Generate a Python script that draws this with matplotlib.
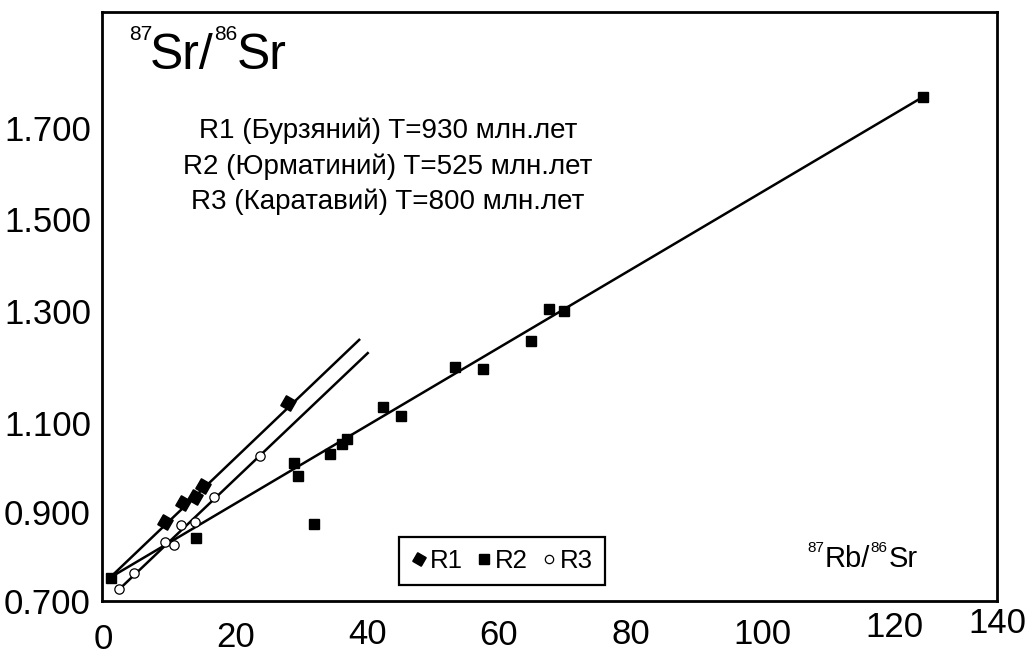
import matplotlib.pyplot as plt
from matplotlib.lines import Line2D

plt.rcParams['font.family'] = ['Liberation Sans', 'DejaVu Sans']

# R1 (Бурзяний) - 87Rb/86Sr and 87Sr/86Sr
r1_rb = [9.3, 12.1, 13.9, 15.1, 28.0]
r1_sr = [0.867, 0.907, 0.920, 0.943, 1.119]

# R2 (Юрматиний)
r2_rb = [1.1, 14.0, 28.9, 29.5, 31.9, 34.4, 36.2, 36.9, 42.4, 45.1,
         53.3, 57.6, 64.9, 67.6, 69.9, 124.3]
r2_sr = [0.749, 0.833, 0.992, 0.964, 0.863, 1.011, 1.032, 1.042, 1.110, 1.091,
         1.195, 1.190, 1.250, 1.317, 1.313, 1.765]

# R3 (Каратавий)
r3_rb = [2.4, 4.7, 9.3, 10.7, 11.7, 13.9, 16.8, 23.8]
r3_sr = [0.725, 0.759, 0.824, 0.818, 0.861, 0.868, 0.919, 1.007]

# isochrons, start and end
r1_line_rb = [1.1, 38.8]
r1_line_sr = [0.751, 1.252]
r2_line_rb = [0.7, 124.3]
r2_line_sr = [0.747, 1.765]
r3_line_rb = [2.4, 40.1]
r3_line_sr = [0.725, 1.224]

age_lines = ['R1 (Бурзяний) T=930 млн.лет',
             'R2 (Юрматиний) T=525 млн.лет',
             'R3 (Каратавий) T=800 млн.лет']

x_ticks = [0, 20, 40, 60, 80, 100, 120, 135.6]
x_labels = ['0', '20', '40', '60', '80', '100', '120', '140']
y_ticks = [0.700, 0.888, 1.076, 1.313, 1.508, 1.700]
y_labels = ['0.700', '0.900', '1.100', '1.300', '1.500', '1.700']

W, H = 1028, 655


def fxy(x, y):
    # pixel position (from top left) -> figure fraction
    return x / W, 1 - y / H


fig = plt.figure(figsize=(W / 100, H / 100), dpi=100)
ax = fig.add_axes([102 / W, 1 - 601 / H, (997 - 102) / W, (601 - 12) / H])

ax.plot(r1_line_rb, r1_line_sr, color='black', lw=1.8)
ax.plot(r2_line_rb, r2_line_sr, color='black', lw=1.8)
ax.plot(r3_line_rb, r3_line_sr, color='black', lw=1.8)

r1_marker = (4, 0, 15)
ax.plot(r2_rb, r2_sr, ls='none', marker='s', ms=7.5, color='black', zorder=3)
ax.plot(r1_rb, r1_sr, ls='none', marker=r1_marker, ms=11.5, color='black', zorder=3)
ax.plot(r3_rb, r3_sr, ls='none', marker='o', ms=6.7, mfc='white', mec='black',
        mew=0.9, zorder=3)

ax.set_xlim(-0.23, 135.6)
ax.set_ylim(0.7, 1.945)

for s in ax.spines.values():
    s.set_linewidth(2)

ax.set_xticks(x_ticks)
ax.set_xticklabels(x_labels)
ax.set_yticks(y_ticks)
ax.set_yticklabels(y_labels)
ax.tick_params(length=0, labelsize=25)
ax.tick_params(axis='y', pad=8)

# x labels in the scan sit on a slightly slanted line
x_pads = [16.0, 14.2, 12.0, 12.7, 12.0, 12.0, 6.9, 4.0]
for t, p in zip(ax.xaxis.get_major_ticks(), x_pads):
    t.set_pad(p)

# axis titles
fig.text(*fxy(129, 40), '87', fontsize=15, va='baseline')
fig.text(*fxy(150, 69), 'Sr/', fontsize=36, va='baseline')
fig.text(*fxy(214, 40), '86', fontsize=15, va='baseline')
fig.text(*fxy(237, 69), 'Sr', fontsize=36, va='baseline')

fig.text(*fxy(807, 552), '87', fontsize=11, va='baseline')
fig.text(*fxy(825, 567), 'Rb/', fontsize=21, va='baseline')
fig.text(*fxy(870, 552), '86', fontsize=11, va='baseline')
fig.text(*fxy(889, 567), 'Sr', fontsize=21, va='baseline')

for i, line in enumerate(age_lines):
    fig.text(*fxy(388, 138 + 35.5 * i), line, fontsize=20, ha='center',
             va='baseline')

handles = [
    Line2D([], [], ls='none', marker=r1_marker, ms=10, color='black'),
    Line2D([], [], ls='none', marker='s', ms=6.5, color='black'),
    Line2D([], [], ls='none', marker='o', ms=6, mfc='white', mec='black', mew=0.9),
]
leg = ax.legend(handles, ['R1', 'R2', 'R3'], ncol=3, loc='center',
                bbox_to_anchor=fxy(502, 561), bbox_transform=fig.transFigure,
                fontsize=18.5, handlelength=0.6, handletextpad=0.15,
                columnspacing=0.5, borderpad=0.45, fancybox=False,
                edgecolor='black', framealpha=1)
leg.get_frame().set_linewidth(1.6)

fig.savefig('out.png', dpi=100)
